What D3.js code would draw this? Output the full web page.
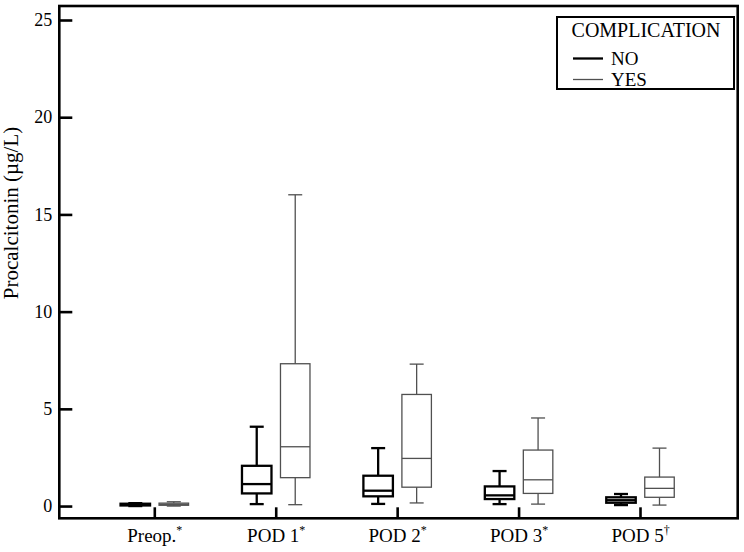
<!DOCTYPE html>
<head>
  <meta charset="utf-8">
  <script src="https://d3js.org/d3.v7.min.js"></script>
  <style>
    body { margin:0; background:white; }
    svg { display:block; font-family: "Liberation Serif", "Times New Roman", serif; }
    .frame { fill:none; stroke:black; stroke-width:2.6; }
    .axis .domain { display:none; }
    .axis line { stroke:black; stroke-width:2.6; }
    .axis text { font-size:18px; fill:black; font-family: "Liberation Serif", serif; }
    .xaxis text { font-size:19px; }
    .box-NO { stroke:black; stroke-width:2.3; fill:white; }
    .box-YES { stroke:#505050; stroke-width:1.3; fill:white; }
  </style>
</head>

<body>
  <script>
    // categories on the x axis and their footnote marks
    var categories = ["Preop.", "POD 1", "POD 2", "POD 3", "POD 5"];
    var footnotes = ["*", "*", "*", "*", "\u2020"];
    var groups = ["NO", "YES"];

    // [whisker low, q1, median, q3, whisker high] per category
    var statsNO = [
      [0.00, 0.03, 0.07, 0.12, 0.15],
      [0.10, 0.65, 1.13, 2.07, 4.08],
      [0.11, 0.50, 0.79, 1.56, 2.98],
      [0.10, 0.36, 0.55, 1.01, 1.80],
      [0.05, 0.17, 0.30, 0.45, 0.62]
    ];
    var statsYES = [
      [0.00, 0.04, 0.09, 0.15, 0.22],
      [0.07, 1.46, 3.05, 7.32, 16.01],
      [0.16, 0.97, 2.45, 5.74, 7.30],
      [0.10, 0.65, 1.35, 2.88, 4.53],
      [0.05, 0.45, 0.91, 1.49, 2.98]
    ];
    var yTicks = [0, 5, 10, 15, 20, 25];

    var width = 744, height = 552;
    var plotL = 59.3, plotR = 737.7, plotT = 6, plotB = 518.3;

    var svg = d3.select("body").append("svg")
        .attr("width", width)
        .attr("height", height);

    var y = d3.scaleLinear().domain([-0.63, 25.72]).range([plotB, plotT]);
    var x = d3.scalePoint().domain(categories).range([154.3, 640]);
    var sub = d3.scalePoint().domain(groups).range([-19, 19.5]);
    var boxW = 29.5, capW = 14;

    // y axis, ticks pointing inward
    svg.append("g")
        .attr("class", "axis")
        .attr("transform", "translate(" + plotL + ",0)")
        .call(d3.axisLeft(y).tickValues(yTicks).tickSize(-13).tickPadding(7));

    // x axis, ticks pointing up, labels with superscript marks
    var xa = svg.append("g")
        .attr("class", "axis xaxis")
        .attr("transform", "translate(0," + plotB + ")")
        .call(d3.axisBottom(x).tickSize(-11).tickPadding(10));
    xa.selectAll("text").each(function(d, i) {
      var t = d3.select(this).text(null);
      t.append("tspan").text(d);
      t.append("tspan").attr("dy", -8).attr("font-size", 12).text(footnotes[i]);
    });

    svg.append("text")
        .attr("transform", "translate(18,213) rotate(-90)")
        .attr("text-anchor", "middle")
        .attr("font-size", 21)
        .text("Procalcitonin (\u00b5g/L)");

    // boxes
    var rows = [];
    categories.forEach(function(c, i) {
      rows.push({cat: c, grp: "NO", s: statsNO[i]});
      rows.push({cat: c, grp: "YES", s: statsYES[i]});
    });

    var g = svg.selectAll("g.box").data(rows).enter().append("g")
        .attr("class", function(d) { return "box box-" + d.grp; })
        .attr("transform", function(d) { return "translate(" + (x(d.cat) + sub(d.grp)) + ",0)"; });

    g.append("line")
        .attr("x1", 0).attr("x2", 0)
        .attr("y1", function(d) { return y(d.s[0]); })
        .attr("y2", function(d) { return y(d.s[4]); });
    g.append("line")
        .attr("x1", -capW / 2).attr("x2", capW / 2)
        .attr("y1", function(d) { return y(d.s[0]); })
        .attr("y2", function(d) { return y(d.s[0]); });
    g.append("line")
        .attr("x1", -capW / 2).attr("x2", capW / 2)
        .attr("y1", function(d) { return y(d.s[4]); })
        .attr("y2", function(d) { return y(d.s[4]); });
    g.append("rect")
        .attr("x", -boxW / 2).attr("width", boxW)
        .attr("y", function(d) { return y(d.s[3]); })
        .attr("height", function(d) { return y(d.s[1]) - y(d.s[3]); });
    g.append("line")
        .attr("x1", -boxW / 2).attr("x2", boxW / 2)
        .attr("y1", function(d) { return y(d.s[2]); })
        .attr("y2", function(d) { return y(d.s[2]); });

    // frame
    svg.append("rect")
        .attr("class", "frame")
        .attr("x", plotL).attr("y", plotT)
        .attr("width", plotR - plotL).attr("height", plotB - plotT);

    // legend
    var lg = svg.append("g").attr("transform", "translate(557,17)");
    lg.append("rect")
        .attr("width", 177).attr("height", 72)
        .attr("fill", "white").attr("stroke", "black").attr("stroke-width", 2);
    lg.append("text").attr("x", 89).attr("y", 20).attr("text-anchor", "middle")
        .attr("font-size", 20).text("COMPLICATION");
    groups.forEach(function(k, i) {
      var yy = 41.5 + i * 21;
      lg.append("line").attr("class", "box-" + k)
          .attr("x1", 16).attr("x2", 46).attr("y1", yy).attr("y2", yy);
      lg.append("text").attr("x", 54).attr("y", yy + 6.5)
          .attr("font-size", 19).text(k);
    });
  </script>
</body>
